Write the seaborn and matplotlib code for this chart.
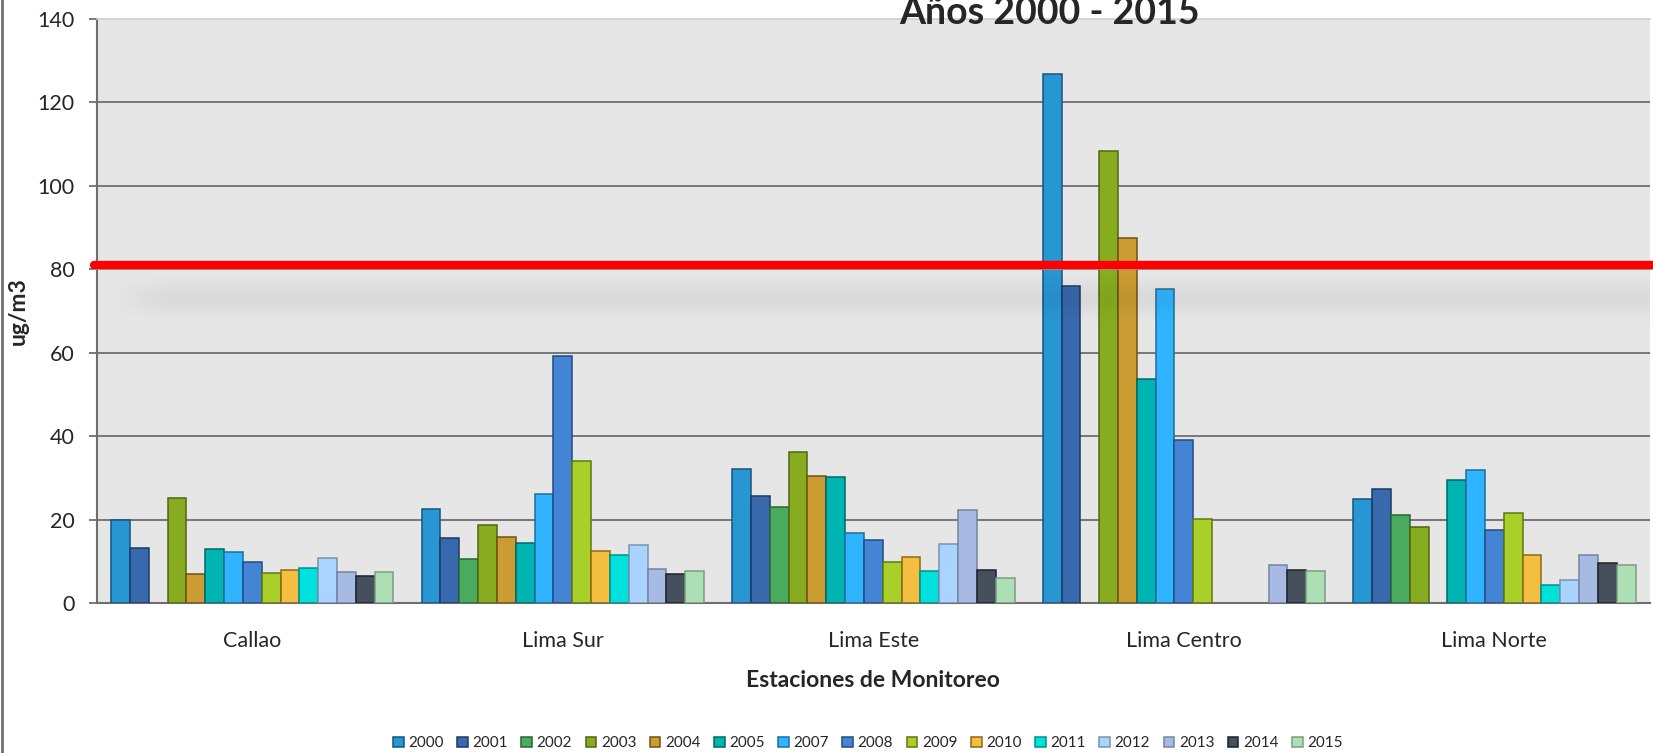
import numpy as np
import pandas as pd
import seaborn as sns
import matplotlib.pyplot as plt
from matplotlib.patches import Patch
from matplotlib.lines import Line2D

# data (ug/m3), nan = no bar
stations = ['Callao', 'Lima Sur', 'Lima Este', 'Lima Centro', 'Lima Norte']
years = ['2000', '2001', '2002', '2003', '2004', '2005', '2007', '2008',
         '2009', '2010', '2011', '2012', '2013', '2014', '2015']

callao = [19.8, 13.1, np.nan, 25.1, 7.0, 12.9, 12.2, 9.8, 7.3, 7.8, 8.5, 10.9, 7.4, 6.5, 7.4]
lima_sur = [22.6, 15.5, 10.5, 18.6, 15.8, 14.5, 26.2, 59.1, 34.0, 12.4, 11.4, 13.8, 8.2, 7.0, 7.7]
lima_este = [32.2, 25.7, 22.9, 36.1, 30.5, 30.3, 16.9, 15.1, 9.8, 11.0, 7.7, 14.2, 22.2, 8.0, 6.1]
lima_centro = [126.8, 75.9, np.nan, 108.4, 87.6, 53.8, 75.2, 39.1, 20.1,
               np.nan, np.nan, np.nan, 9.0, 8.0, 7.6]
lima_norte = [25.0, 27.4, 21.0, 18.2, np.nan, 29.4, 32.0, 17.4, 21.6, 11.5, 4.2, 5.4, 11.5, 9.7, 9.2]

limite = 81  # red reference line

colors = ['#2896D3', '#3869AD', '#4AAA60', '#88AC20', '#CA9C32', '#00B4B2', '#30B4FF', '#4484D4',
          '#A8D028', '#F4BE40', '#00E0DC', '#A8D4FF', '#A6BAE4', '#46505C', '#ACE0B4']
edges = ['#14557F', '#1C3A66', '#2A6535', '#52650F', '#6E5214', '#006866', '#1E6E9A', '#234C80',
         '#627610', '#8C6A14', '#00908C', '#7A92AA', '#76849E', '#1A222C', '#7E9C84']

vals = [callao, lima_sur, lima_este, lima_centro, lima_norte]
rows = []
for st, v in zip(stations, vals):
    for yr, x in zip(years, v):
        rows.append({'Estacion': st, 'Año': yr, 'valor': x})
df = pd.DataFrame(rows)

sns.set_style('white')
plt.rcParams['font.family'] = ['Lato', 'DejaVu Sans']

fig = plt.figure(figsize=(16.53, 7.53), dpi=100)
ax = fig.add_axes([0.0587, 0.1992, 0.9393, 0.7756])
ax.set_facecolor('#e6e6e6')

sns.barplot(data=df, x='Estacion', y='valor', hue='Año', order=stations, hue_order=years,
            palette=dict(zip(years, colors)), width=15 / 16.5, gap=0, legend=False,
            saturation=1, linewidth=1.1, ax=ax, zorder=3)
for cont, ec in zip(ax.containers, edges):
    for p in cont.patches:
        p.set_edgecolor(ec)

for yv in range(20, 140, 20):
    ax.axhline(yv, color='#6e6e6e', lw=1.3, zorder=1)

# soft shadow under the red line
yy = np.linspace(62, 84, 200)[:, None]
xx = np.linspace(0, 1, 400)[None, :]
shade = np.exp(-((yy - 73) / 3.6) ** 2) * np.clip((xx - 0.005) / 0.04, 0, 1)
rgba = np.zeros((200, 400, 4))
rgba[..., 3] = 0.055 * shade
ax.imshow(rgba, extent=(-0.5, 4.5, 62, 84), origin='lower', aspect='auto', zorder=4,
          interpolation='bilinear')
ax.set_xlim(-0.5, 4.5)
ax.set_ylim(0, 140)
ax.set_yticks(range(0, 141, 20))

ax.axhline(limite - 0.9, color='#a0a0a0', lw=1.2, zorder=5, xmin=-0.002, xmax=1.002, clip_on=False)
ax.axhline(limite, color='#ff0000', lw=6, zorder=6, xmin=-0.002, xmax=1.002, clip_on=False)

for s in ['left', 'bottom']:
    ax.spines[s].set_color('#6e6e6e')
    ax.spines[s].set_linewidth(1.5)
ax.spines['top'].set_color('#cfcfcf')
ax.spines['top'].set_linewidth(1.2)
ax.spines['right'].set_visible(False)

ax.tick_params(axis='y', length=6, width=1.3, color='#6e6e6e', pad=10, labelsize=15.5, left=True)
ax.tick_params(axis='x', length=0, pad=20, labelsize=15.5)
ax.set_ylabel('ug/m3', fontsize=16.5, fontweight='bold')
ax.yaxis.set_label_coords(-0.044, 0.5)
ax.set_xlabel('Estaciones de Monitoreo', fontsize=16.5, fontweight='bold', labelpad=14)

fig.text(0.635, 0.968, 'Años 2000 - 2015', ha='center', va='baseline',
         fontsize=27, fontweight='bold')

handles = [Patch(facecolor=c, edgecolor=e, linewidth=1.1) for c, e in zip(colors, edges)]
fig.legend(handles, years, loc='center', bbox_to_anchor=(0.525, 0.013), ncol=15,
           frameon=False, fontsize=11, handlelength=0.7, handleheight=0.7,
           handletextpad=0.3, columnspacing=0.88)

fig.add_artist(Line2D([0.0015, 0.0015], [0, 1], color='#707070', lw=2, transform=fig.transFigure))

fig.savefig('out.png', dpi=100)
